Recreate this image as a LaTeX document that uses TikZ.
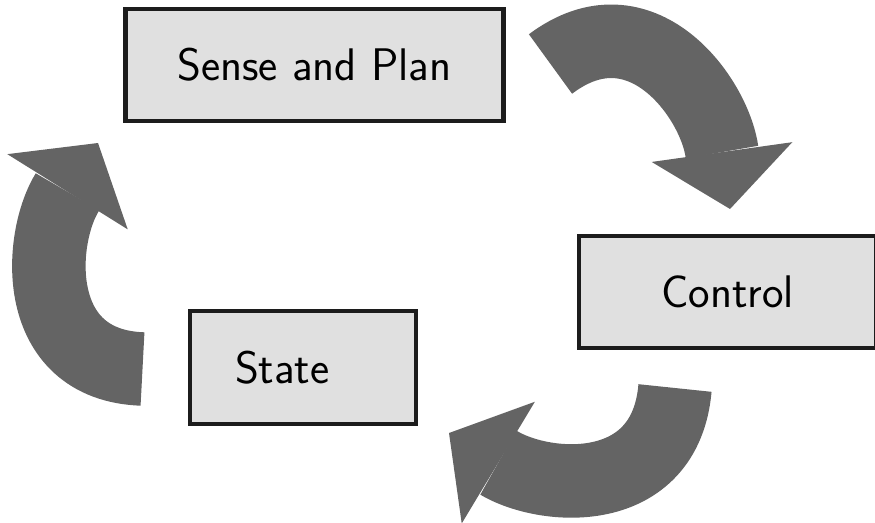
\documentclass[tikz,border=0pt]{standalone}
\usepackage{fontspec}
\usepackage{xcolor}
\usepackage{tikz}
\usetikzlibrary{arrows.meta, positioning}
\definecolor{boxgray}{RGB}{224,224,224}
\definecolor{cyclegray}{RGB}{100,100,100}
\definecolor{edgeblack}{RGB}{28,28,28}

\begin{document}
\begin{tikzpicture}[
    node distance=1.5cm,
    stage/.style={rectangle, minimum height=2.25cm, text centered, draw=edgeblack, line width=0.086cm, fill=boxgray, outer sep=0pt, font=\sffamily\fontsize{26}{31}\selectfont},
    flow/.style={draw=cyclegray, line width=1.47cm, looseness=1.25, -{Triangle[width=2.84cm, length=1.15cm, line width=0pt]}}
]
\useasboundingbox (0,0) rectangle (17.5,10.44);

\node[stage, minimum width=7.56cm] (sense) at (6.29,9.14) {Sense and Plan};
\node[stage, minimum width=5.94cm, below right=2.29cm and 1.51cm of sense] (control) {Control};
\node[stage, minimum width=4.52cm, text width=2.72cm, align=left, below=3.8cm of sense, xshift=-0.23cm] (state) {State};

\coordinate (sense-out) at (11.01,9.16);
\coordinate (control-in) at (14.6,6.26);
\coordinate (control-out) at (13.5,2.68);
\coordinate (state-in) at (8.98,1.78);
\coordinate (state-out) at (2.85,3.06);
\coordinate (sense-in) at (1.96,7.58);

\draw[flow] (sense-out) to[out=37, in=98] (control-in);
\draw[flow] (control-out) to[out=-95, in=-31] (state-in);
\draw[flow] (state-out) to[out=178, in=-122] (sense-in);

\end{tikzpicture}
\end{document}
